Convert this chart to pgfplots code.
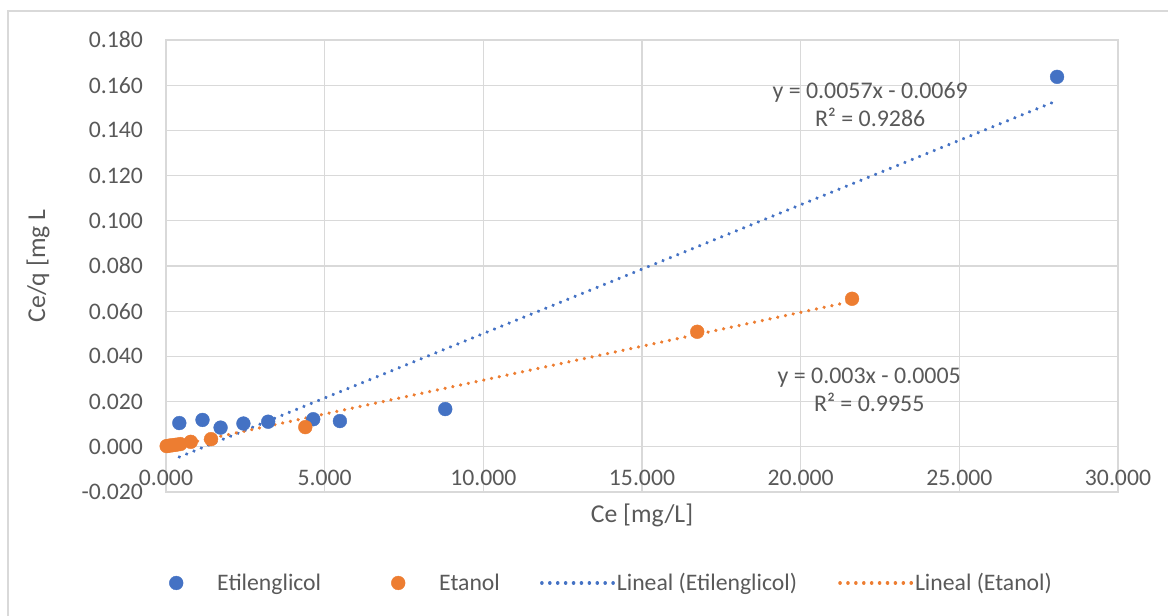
\documentclass[border=0pt]{standalone}
\usepackage{fontspec}
\setmainfont{Carlito}
\usepackage{pgfplots}
\pgfplotsset{compat=1.18}
\definecolor{cblue}{HTML}{4472C4}
\definecolor{corange}{HTML}{ED7D31}
\definecolor{tgray}{HTML}{595959}
\definecolor{ggray}{HTML}{D9D9D9}
\begin{document}
\begin{tikzpicture}[x=1pt,y=1pt]
\path[use as bounding box] (0,0) rectangle (1168,616);
\draw[ggray, line width=1.2pt] (8,0) -- (8,605) -- (1168,605);
\begin{axis}[
  at={(166pt,124pt)}, anchor=south west,
  scale only axis, width=952pt, height=452pt,
  xmin=0, xmax=30, ymin=-0.02, ymax=0.18,
  clip=false,
  xtick={0,5,10,15,20,25,30},
  xticklabels={0.000,5.000,10.000,15.000,20.000,25.000,30.000},
  ytick={-0.02,0,0.02,0.04,0.06,0.08,0.1,0.12,0.14,0.16,0.18},
  yticklabels={-0.020,0.000,0.020,0.040,0.060,0.080,0.100,0.120,0.140,0.160,0.180},
  major tick length=0pt,
  grid=major,
  major grid style={ggray, line width=1.3pt},
  axis line style={ggray, line width=1.3pt},
  tick label style={font=\fontsize{23.7}{28}\selectfont, text=tgray},
  xticklabel style={anchor=base, yshift=6pt},
  yticklabel style={anchor=east, inner sep=0pt, xshift=-23pt},
  xlabel={Ce [mg/L]},
  ylabel={Ce/q [mg L},
  every axis x label/.style={at={(axis description cs:0.5,-0.0509)}, anchor=center, font=\fontsize{25.7}{30}\selectfont, text=tgray},
  every axis y label/.style={at={(axis description cs:-0.1345,0.5)}, rotate=90, anchor=center, font=\fontsize{25.7}{30}\selectfont, text=tgray},
  legend style={at={(axis description cs:-0.001,-0.2013)}, anchor=west, draw=none, fill=none, inner sep=0pt, font=\fontsize{23.7}{28}\selectfont, text=tgray, column sep=0pt, nodes={inner sep=0pt}},
  legend cell align=left,
  legend columns=4,
]
\addplot[only marks, mark=*, mark size=6.9pt, color=cblue, mark options={fill=cblue, draw=cblue},
  legend image code/.code={\path[draw=none,fill=none] (-11pt,0pt) -- (41pt,0pt); \draw[cblue, fill=cblue] plot[mark=*, mark size=6.9pt] coordinates {(0pt,0pt)};}]
  coordinates {(0.42,0.0105) (1.15,0.0119) (1.72,0.0085) (2.44,0.0103) (3.22,0.0111) (4.64,0.0122) (5.48,0.0114) (8.80,0.0167) (28.08,0.1637)};
\addlegendentry{Etilenglicol}
\addplot[only marks, mark=*, mark size=6.9pt, color=corange, mark options={fill=corange, draw=corange},
  legend image code/.code={\path[draw=none,fill=none] (-77pt,0pt) -- (41pt,0pt); \draw[corange, fill=corange] plot[mark=*, mark size=6.9pt] coordinates {(0pt,0pt)};}]
  coordinates {(0.02,0.0003) (0.10,0.0005) (0.20,0.0007) (0.32,0.0009) (0.45,0.0012) (0.78,0.0022) (1.42,0.0034) (4.39,0.0087) (16.74,0.0509) (21.62,0.0655)};
\addlegendentry{Etanol}
\addplot[cblue, line width=3.6pt, line cap=round, dash pattern=on 0.01pt off 7.9pt,
  legend image code/.code={\path[draw=none,fill=none] (-42pt,0pt) -- (75pt,0pt); \draw[cblue, line width=3.6pt, line cap=round, dash pattern=on 0.01pt off 7.9pt] (0pt,0pt) -- (72pt,0pt);}]
  coordinates {(0.42,-0.004506) (28.08,0.153156)};
\addlegendentry{Lineal (Etilenglicol)}
\addplot[corange, line width=3.6pt, line cap=round, dash pattern=on 0.01pt off 7.9pt,
  legend image code/.code={\path[draw=none,fill=none] (-43pt,0pt) -- (75pt,0pt); \draw[corange, line width=3.6pt, line cap=round, dash pattern=on 0.01pt off 7.9pt] (0pt,0pt) -- (72pt,0pt);}]
  coordinates {(0.02,-0.00044) (21.62,0.06436)};
\addlegendentry{Lineal (Etanol)}
\node[align=center, font=\fontsize{23.9}{28}\selectfont, text=tgray] at (axis cs:22.19,0.1513) {y = 0.0057x - 0.0069\\R² = 0.9286};
\node[align=center, font=\fontsize{23.9}{28}\selectfont, text=tgray] at (axis cs:22.16,0.0252) {y = 0.003x - 0.0005\\R² = 0.9955};
\end{axis}
\end{tikzpicture}
\end{document}
